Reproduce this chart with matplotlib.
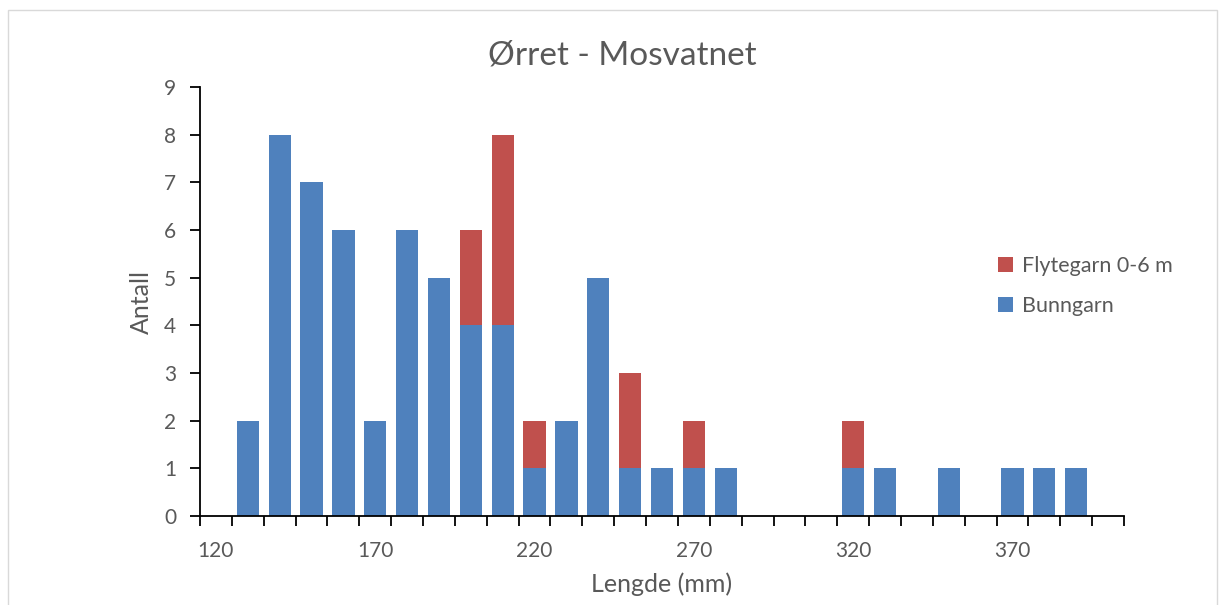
import matplotlib.pyplot as plt
from matplotlib.patches import Rectangle

plt.rcParams['font.family'] = ['Lato', 'DejaVu Sans']

lengder = list(range(120, 410, 10))
bunngarn = [0, 2, 8, 7, 6, 2, 6, 5, 4, 4, 1, 2, 5, 1, 1, 1, 1, 0, 0, 0, 1, 1, 0, 1, 0, 1, 1, 1, 0]
flytegarn = [0, 0, 0, 0, 0, 0, 0, 0, 2, 4, 1, 0, 0, 2, 0, 1, 0, 0, 0, 0, 1, 0, 0, 0, 0, 0, 0, 0, 0]

blaa = '#4F81BD'
roed = '#C0504D'
tekst = '#595959'

fig = plt.figure(figsize=(12.27, 6.05), dpi=100)
ax = fig.add_axes([200/1227, 1 - 516/605, 924/1227, 429/605])

x = list(range(len(lengder)))
ax.bar(x, bunngarn, width=0.7, color=blaa, linewidth=0, label='Bunngarn')
ax.bar(x, flytegarn, width=0.7, bottom=bunngarn, color=roed, linewidth=0, label='Flytegarn 0-6 m')

ax.set_xlim(-0.5, len(lengder) - 0.5)
ax.set_ylim(0, 9)
ax.set_yticks(range(10))

# kategorigrenser som hovedmerker, etiketter hver 5. kategori
ax.set_xticks([i - 0.5 for i in range(len(lengder) + 1)])
ax.set_xticklabels([])
ax.set_xticks(x[::5], minor=True)
ax.set_xticklabels([str(v) for v in lengder[::5]], minor=True)
ax.tick_params(axis='x', which='major', length=7, width=1.3, direction='out', color='black')
ax.tick_params(axis='x', which='minor', length=0, pad=18, labelsize=15, labelcolor=tekst)
ax.tick_params(axis='y', length=7, width=1.3, color='black', labelsize=15, labelcolor=tekst, pad=10)

for s in ['top', 'right']:
    ax.spines[s].set_visible(False)
for s in ['left', 'bottom']:
    ax.spines[s].set_linewidth(1.3)
    ax.spines[s].set_color('black')

ax.set_xlabel('Lengde (mm)', fontsize=18, color=tekst, labelpad=8)
ax.set_ylabel('Antall', fontsize=18, color=tekst, labelpad=8)
fig.text(622/1227, 1 - 55/605, 'Ørret - Mosvatnet', fontsize=24, color=tekst, ha='center', va='center')

h, l = ax.get_legend_handles_labels()
fig.legend(h[::-1], l[::-1], loc='upper left', bbox_to_anchor=(979/1227, 1 - 237/605),
           frameon=False, fontsize=15.5, labelcolor=tekst, handlelength=0.7, handleheight=0.7,
           handletextpad=0.4, labelspacing=0.9)

fig.patches.append(Rectangle((8/1227, -0.02), 1209/1227, 1.0 - 10/605 + 0.02, transform=fig.transFigure,
                             fill=False, edgecolor='#D9D9D9', linewidth=1.0))

fig.savefig('out.png', dpi=100)
